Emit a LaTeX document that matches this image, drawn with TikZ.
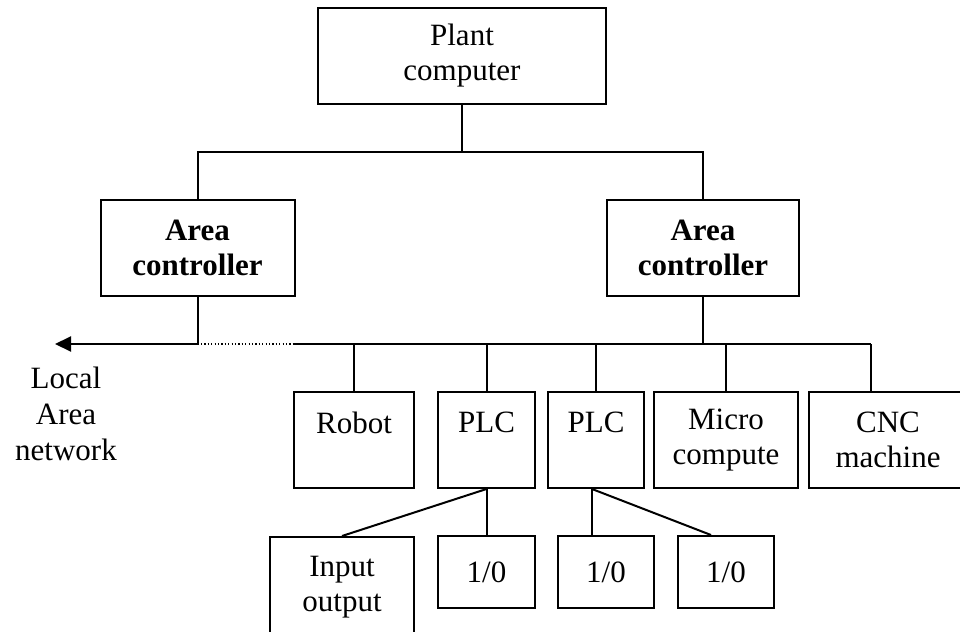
\documentclass[tikz,border=0pt]{standalone}
\usepackage{fontspec}
\setmainfont{Liberation Serif}
\usetikzlibrary{arrows.meta}

\begin{document}
\begin{tikzpicture}[x=0.5pt, y=-0.5pt,
  every node/.style={font=\fontsize{15.5pt}{17.5pt}\selectfont, align=center},
  box/.style={draw, line width=1pt, rectangle, inner sep=0pt},
  conn/.style={line width=1pt},
  dotline/.style={line width=0.6pt, dash pattern=on 0.6pt off 1.1pt},
  lanarrow/.style={-{Triangle[length=8pt, width=7.5pt]}}
]
\useasboundingbox (0,0) rectangle (960,632);

% top level
\node[box, minimum width=144pt, minimum height=48pt] (plant) at (462,56) {Plant\\computer};

% area controllers
\node[box, minimum width=97pt, minimum height=48pt] (ac1) at (197.5,248) {\textbf{Area}\\\textbf{controller}};
\node[box, minimum width=96pt, minimum height=48pt] (ac2) at (703,248) {\textbf{Area}\\\textbf{controller}};

% shop-floor devices
\node[box, minimum width=60pt, minimum height=48pt] (robot) at (354,440) {Robot\\\mbox{}};
\node[box, minimum width=48.5pt, minimum height=48pt] (plc1) at (486.5,440) {PLC\\\mbox{}};
\node[box, minimum width=48pt, minimum height=48pt] (plc2) at (596,440) {PLC\\\mbox{}};
\node[box, minimum width=72pt, minimum height=48pt] (micro) at (726,440) {Micro\\compute};
\node[box, minimum width=79pt, minimum height=48pt] (cnc) at (888,440) {CNC\\machine};

% I/O modules
\node[box, minimum width=72pt, minimum height=50pt] (io) at (342,587) {Input\\output};
\node[box, minimum width=48.5pt, minimum height=36pt] (io1) at (486.5,572) {1/0};
\node[box, minimum width=48pt, minimum height=36pt] (io2) at (606,572) {1/0};
\node[box, minimum width=48pt, minimum height=36pt] (io3) at (726,572) {1/0};

% network label
\node[inner sep=0pt, anchor=north,
      font=\fontsize{15.5pt}{18pt}\selectfont] (lan) at (66,367) {Local\\Area\\network};

% bus junctions
\coordinate (topbus) at (462,152);
\coordinate (busL) at (293,344);
\coordinate (busR) at (871,344);
\coordinate (lanend) at (55,344);

% plant computer to area controllers
\draw[conn] (plant.south) -- (topbus);
\draw[conn] (ac1.north) |- (topbus) -| (ac2.north);

% left controller to local area network
\draw[conn, lanarrow] (ac1.south) |- (lanend);
\draw[dotline] (ac1.south |- busL) -- (busL);

% right controller bus
\draw[conn] (ac2.south) -- (ac2.south |- busL);
\draw[conn] (busL) -- (busR);
\draw[conn] (robot.north) -- (robot.north |- busL);
\draw[conn] (plc1.north) -- (plc1.north |- busL);
\draw[conn] (plc2.north) -- (plc2.north |- busL);
\draw[conn] (micro.north) -- (micro.north |- busL);
\draw[conn] (busR) -- (busR |- cnc.north);

% PLC to I/O
\draw[conn] (plc1.south) -- (io.north);
\draw[conn] (plc1.south) -- (io1.north);
\draw[conn] ([xshift=-2pt]plc2.south) -- ([xshift=-2pt]plc2.south |- io2.north);
\draw[conn] ([xshift=-2pt]plc2.south) -- ([xshift=-7.5pt]io3.north);
\end{tikzpicture}
\end{document}
